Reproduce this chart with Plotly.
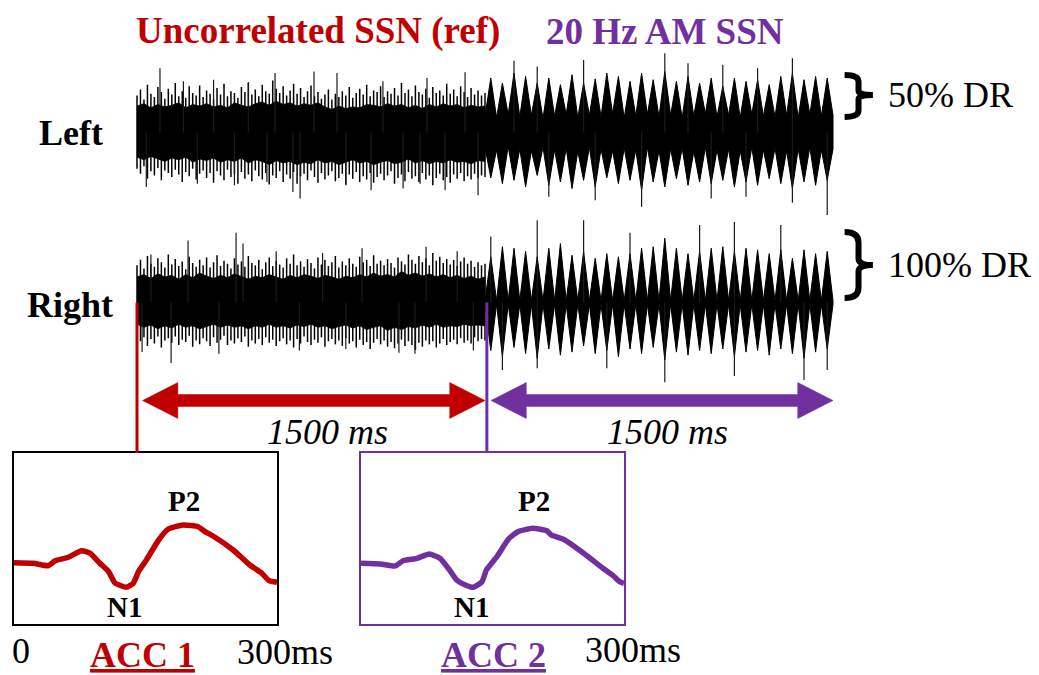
import plotly.graph_objects as go

W, H = 1039, 675
RED = '#C00000'
PURPLE = '#7030A0'
FONT = 'Liberation Serif, Times New Roman, serif'

# ---------------- stimulus waveforms (envelopes) -------------
# uncorrelated SSN part: solid core of the band, read every 30 ms (0..1500 ms)
core_t = list(range(0, 1501, 30))
left_core_top = [0.32, 0.35, 0.30, 0.34, 0.31, 0.33, 0.36, 0.30, 0.34, 0.32, 0.35, 0.31, 0.33,
                 0.30, 0.36, 0.33, 0.31, 0.35, 0.37, 0.33, 0.38, 0.34, 0.36, 0.32, 0.35, 0.33,
                 0.36, 0.31, 0.28, 0.32, 0.29, 0.31, 0.30, 0.34, 0.33, 0.31, 0.35, 0.32, 0.34,
                 0.30, 0.33, 0.29, 0.34, 0.31, 0.35, 0.32, 0.34, 0.30, 0.33, 0.31, 0.32]
left_core_bot = [-0.30, -0.33, -0.29, -0.32, -0.35, -0.31, -0.33, -0.30, -0.36, -0.32, -0.34,
                 -0.31, -0.36, -0.33, -0.35, -0.31, -0.37, -0.33, -0.35, -0.39, -0.34, -0.37,
                 -0.35, -0.39, -0.36, -0.38, -0.33, -0.37, -0.35, -0.39, -0.36, -0.33, -0.37,
                 -0.35, -0.39, -0.36, -0.34, -0.38, -0.36, -0.32, -0.37, -0.34, -0.38, -0.35,
                 -0.37, -0.33, -0.36, -0.35, -0.38, -0.34, -0.35]
right_core_top = [0.33, 0.36, 0.31, 0.37, 0.33, 0.35, 0.30, 0.36, 0.32, 0.38, 0.34, 0.31, 0.35,
                  0.32, 0.37, 0.34, 0.30, 0.34, 0.32, 0.36, 0.33, 0.30, 0.35, 0.32, 0.36, 0.34,
                  0.31, 0.35, 0.33, 0.30, 0.34, 0.32, 0.36, 0.33, 0.38, 0.34, 0.36, 0.33, 0.40,
                  0.35, 0.38, 0.34, 0.37, 0.33, 0.36, 0.32, 0.35, 0.31, 0.34, 0.30, 0.33]
right_core_bot = [-0.28, -0.32, -0.29, -0.34, -0.30, -0.33, -0.28, -0.32, -0.30, -0.34, -0.31,
                  -0.28, -0.32, -0.29, -0.32, -0.30, -0.34, -0.30, -0.32, -0.28, -0.32, -0.30,
                  -0.33, -0.29, -0.31, -0.28, -0.32, -0.30, -0.34, -0.31, -0.29, -0.33, -0.30,
                  -0.35, -0.32, -0.30, -0.36, -0.32, -0.35, -0.31, -0.33, -0.29, -0.32, -0.28,
                  -0.32, -0.30, -0.31, -0.28, -0.30, -0.29, -0.30]

# uncorrelated SSN part: needle tips of the noisy fringe, read every 15 ms
needle_t = list(range(0, 1501, 15))
left_needle_hi = [0.45, 0.52, 0.40, 0.58, 0.47, 0.43, 0.55, 0.49, 0.41, 0.53,
                  0.46, 0.60, 0.44, 0.50, 0.42, 0.56, 0.48, 0.45, 0.57, 0.43,
                  0.51, 0.47, 0.40, 0.54, 0.46, 0.59, 0.44, 0.50, 0.48, 0.42,
                  0.55, 0.49, 0.61, 0.46, 0.52, 0.44, 0.58, 0.50, 0.47, 0.63,
                  0.53, 0.48, 0.56, 0.45, 0.51, 0.59, 0.47, 0.54, 0.43, 0.50,
                  0.57, 0.44, 0.49, 0.41, 0.46, 0.52, 0.40, 0.47, 0.43, 0.50,
                  0.45, 0.55, 0.42, 0.48, 0.53, 0.46, 0.58, 0.44, 0.51, 0.49,
                  0.56, 0.43, 0.50, 0.47, 0.54, 0.45, 0.60, 0.48, 0.52, 0.44,
                  0.57, 0.49, 0.46, 0.53, 0.42, 0.55, 0.48, 0.51, 0.45, 0.59,
                  0.47, 0.52, 0.44, 0.56, 0.49, 0.43, 0.54, 0.46, 0.51, 0.45, 0.48]
left_needle_lo = [-0.44, -0.50, -0.41, -0.56, -0.47, -0.52, -0.43, -0.58, -0.46, -0.49,
                  -0.54, -0.45, -0.51, -0.60, -0.48, -0.53, -0.44, -0.57, -0.50, -0.46,
                  -0.55, -0.49, -0.61, -0.47, -0.52, -0.58, -0.45, -0.54, -0.50, -0.62,
                  -0.48, -0.56, -0.51, -0.59, -0.46, -0.53, -0.57, -0.49, -0.63, -0.52,
                  -0.55, -0.47, -0.60, -0.51, -0.56, -0.48, -0.62, -0.53, -0.50, -0.58,
                  -0.46, -0.54, -0.61, -0.49, -0.57, -0.52, -0.47, -0.59, -0.55, -0.50,
                  -0.63, -0.51, -0.56, -0.48, -0.60, -0.53, -0.57, -0.49, -0.61, -0.54,
                  -0.50, -0.58, -0.52, -0.47, -0.62, -0.55, -0.51, -0.59, -0.48, -0.56,
                  -0.53, -0.60, -0.49, -0.57, -0.52, -0.64, -0.55, -0.50, -0.58, -0.54,
                  -0.61, -0.51, -0.56, -0.49, -0.59, -0.53, -0.57, -0.50, -0.55, -0.52, -0.54]
right_needle_hi = [0.48, 0.55, 0.44, 0.60, 0.50, 0.46, 0.57, 0.52, 0.45, 0.62,
                   0.49, 0.56, 0.47, 0.53, 0.43, 0.59, 0.51, 0.46, 0.55, 0.48,
                   0.58, 0.45, 0.52, 0.61, 0.47, 0.54, 0.50, 0.44, 0.57, 0.49,
                   0.53, 0.46, 0.60, 0.51, 0.48, 0.55, 0.43, 0.52, 0.58, 0.47,
                   0.54, 0.49, 0.45, 0.57, 0.50, 0.62, 0.48, 0.53, 0.46, 0.56,
                   0.51, 0.44, 0.58, 0.49, 0.55, 0.47, 0.52, 0.60, 0.45, 0.53,
                   0.48, 0.57, 0.50, 0.46, 0.59, 0.52, 0.55, 0.47, 0.61, 0.50,
                   0.54, 0.48, 0.56, 0.51, 0.45, 0.58, 0.53, 0.49, 0.62, 0.55,
                   0.50, 0.60, 0.52, 0.57, 0.48, 0.64, 0.54, 0.59, 0.51, 0.56,
                   0.49, 0.55, 0.47, 0.53, 0.58, 0.50, 0.54, 0.46, 0.52, 0.48, 0.50]
right_needle_lo = [-0.42, -0.50, -0.45, -0.56, -0.47, -0.53, -0.44, -0.58, -0.49, -0.46,
                   -0.52, -0.44, -0.55, -0.48, -0.51, -0.43, -0.57, -0.49, -0.54, -0.46,
                   -0.50, -0.56, -0.45, -0.52, -0.48, -0.43, -0.55, -0.49, -0.53, -0.46,
                   -0.51, -0.44, -0.57, -0.49, -0.53, -0.47, -0.55, -0.45, -0.52, -0.48,
                   -0.56, -0.50, -0.46, -0.54, -0.49, -0.58, -0.47, -0.53, -0.44, -0.51,
                   -0.55, -0.48, -0.52, -0.45, -0.57, -0.50, -0.47, -0.54, -0.49, -0.56,
                   -0.46, -0.53, -0.50, -0.58, -0.48, -0.55, -0.51, -0.60, -0.52, -0.47,
                   -0.54, -0.49, -0.57, -0.51, -0.59, -0.53, -0.48, -0.56, -0.50, -0.55,
                   -0.61, -0.52, -0.57, -0.49, -0.54, -0.50, -0.58, -0.53, -0.47, -0.55,
                   -0.51, -0.48, -0.54, -0.46, -0.52, -0.49, -0.53, -0.45, -0.50, -0.47, -0.49]

# 20 Hz AM SSN part: troughs and burst peaks (ms)
trough_t = [1500, 1550, 1600, 1650, 1700, 1750, 1800, 1850, 1900, 1950, 2000, 2050, 2100, 2150,
            2200, 2250, 2300, 2350, 2400, 2450, 2500, 2550, 2600, 2650, 2700, 2750, 2800, 2850,
            2900, 2950, 3000]
burst_t = [1525, 1575, 1625, 1675, 1725, 1775, 1825, 1875, 1925, 1975, 2025, 2075, 2125, 2175,
           2225, 2275, 2325, 2375, 2425, 2475, 2525, 2575, 2625, 2675, 2725, 2775, 2825, 2875,
           2925, 2975]
left_peak_top = [0.66, 0.60, 0.72, 0.68, 0.60, 0.66, 0.58, 0.70, 0.60, 0.65, 0.72, 0.68, 0.62,
                 0.72, 0.64, 0.74, 0.62, 0.68, 0.60, 0.66, 0.56, 0.66, 0.62, 0.64, 0.58, 0.68,
                 0.72, 0.64, 0.68, 0.66]
left_peak_bot = [-0.55, -0.62, -0.58, -0.66, -0.52, -0.64, -0.60, -0.68, -0.58, -0.66, -0.55,
                 -0.62, -0.58, -0.70, -0.60, -0.66, -0.56, -0.64, -0.60, -0.62, -0.58, -0.66,
                 -0.60, -0.64, -0.56, -0.62, -0.68, -0.60, -0.64, -0.58]
left_trough_top = [0.20, 0.18, 0.22, 0.19, 0.21, 0.17, 0.20, 0.22, 0.18, 0.21, 0.19, 0.23, 0.18,
                   0.20, 0.22, 0.19, 0.21, 0.18, 0.20, 0.23, 0.19, 0.21, 0.18, 0.22, 0.20, 0.19,
                   0.21, 0.18, 0.22, 0.20, 0.21]
left_trough_bot = [-0.18, -0.21, -0.17, -0.20, -0.22, -0.18, -0.21, -0.19, -0.23, -0.18, -0.20,
                   -0.22, -0.19, -0.21, -0.18, -0.22, -0.20, -0.19, -0.23, -0.18, -0.21, -0.20,
                   -0.22, -0.18, -0.21, -0.19, -0.22, -0.20, -0.18, -0.21, -0.20]
right_peak_top = [0.59, 0.72, 0.70, 0.66, 0.59, 0.70, 0.76, 0.61, 0.66, 0.57, 0.63, 0.59, 0.63,
                  0.70, 0.72, 0.83, 0.70, 0.63, 0.66, 0.70, 0.72, 0.66, 0.70, 0.68, 0.63, 0.68,
                  0.57, 0.68, 0.63, 0.66]
right_peak_bot = [-0.62, -0.70, -0.58, -0.66, -0.72, -0.60, -0.68, -0.64, -0.56, -0.66, -0.62,
                  -0.70, -0.60, -0.66, -0.58, -0.74, -0.64, -0.68, -0.62, -0.66, -0.60, -0.70,
                  -0.64, -0.62, -0.68, -0.60, -0.66, -0.72, -0.64, -0.60]
RIGHT_TROUGH = 0.025   # 100% depth: only a thin line remains between bursts

# isolated long needle spikes outside the dense band
left_spike_t = [40, 99, 200, 260, 330, 420, 480, 560, 595, 672, 703, 763, 862, 900, 1009, 1060,
                1147, 1220, 1250, 1328, 1414, 1470, 1625, 1725, 1775, 1925, 1975, 2175, 2275,
                2375, 2475, 2525, 2625, 2675, 2825, 2825, 2975]
left_spike_v = [-0.66, 0.78, 0.62, -0.62, 0.64, -0.64, 0.60, -0.60, 0.72, -0.72, -0.80, 0.74,
                0.72, -0.64, -0.70, 0.62, -0.68, -0.62, 0.66, -0.70, 0.73, -0.76, 0.87, 0.80,
                -0.78, 0.88, -0.82, -0.90, 0.96, 0.84, -0.80, 0.82, -0.78, 0.78, 0.90, -0.85,
                -1.00]
right_spike_t = [22, 60, 147, 220, 353, 427, 457, 600, 700, 800, 900, 970, 1129, 1198, 1246,
                 1380, 1450, 1525, 1575, 1725, 1725, 1925, 2025, 2125, 2275, 2425, 2575, 2575,
                 2775, 2875, 2975]
right_spike_v = [-0.64, 0.62, -0.78, 0.80, -0.66, 0.90, 0.76, 0.66, -0.62, 0.64, -0.60, 0.70,
                 -0.65, -0.66, 0.72, 0.66, -0.62, 0.85, -0.87, 1.06, -0.85, 1.06, -0.85, 0.90,
                 -1.03, 1.00, 1.04, -0.95, 1.00, -1.00, -0.87]

# ---------------- ACC responses (0-300 ms) ----------------
erp1_t = [0, 22, 39, 47, 62, 77, 87, 98, 108, 115, 128, 136, 142, 151, 165, 176, 193, 210, 218,
          227, 250, 269, 282, 291, 300]
erp1_v = [0.23, 0.17, -0.07, 0.43, 0.77, 1.43, 1.17, 0.17, -0.67, -1.77, -2.23, -1.83, -0.67,
          0.5, 2.5, 3.6, 4.0, 3.83, 3.33, 2.9, 1.5, 0.0, -0.77, -1.57, -1.73]
erp2_t = [0, 22, 39, 48, 64, 78, 90, 101, 109, 119, 128, 138, 143, 155, 168, 179, 196, 212, 217,
          231, 254, 276, 288, 295, 300]
erp2_v = [0.17, 0.1, -0.1, 0.43, 0.67, 1.1, 0.67, -0.5, -1.5, -2.0, -2.23, -1.67, -0.5, 0.83,
          2.57, 3.33, 3.67, 3.43, 3.0, 2.57, 1.17, -0.33, -1.1, -1.67, -1.83]

segments = [(0, 1500, RED), (1500, 3000, PURPLE)]
onsets = [(0, RED), (1508, PURPLE)]


def band_polygon(ts, top, bot):
    return list(ts) + list(ts)[::-1], list(top) + list(bot)[::-1]


def am_polygon(tr_top, tr_bot, pk_top, pk_bot):
    xt, yt, xb, yb = [], [], [], []
    for i in range(len(burst_t)):
        xt += [trough_t[i], burst_t[i]]
        yt += [tr_top[i], pk_top[i]]
        xb += [trough_t[i], burst_t[i]]
        yb += [tr_bot[i], pk_bot[i]]
    xt.append(trough_t[-1]); yt.append(tr_top[-1])
    xb.append(trough_t[-1]); yb.append(tr_bot[-1])
    return xt + xb[::-1], yt + yb[::-1]


def segs(ts, lo, hi):
    xs, ys = [], []
    for t, a, b in zip(ts, lo, hi):
        xs += [t, t, None]
        ys += [a, b, None]
    return xs, ys


fig = go.Figure()

channels = [
    ('y', left_core_top, left_core_bot, left_needle_hi, left_needle_lo,
     left_trough_top, left_trough_bot, left_peak_top, left_peak_bot, left_spike_t, left_spike_v),
    ('y2', right_core_top, right_core_bot, right_needle_hi, right_needle_lo,
     [RIGHT_TROUGH] * len(trough_t), [-RIGHT_TROUGH] * len(trough_t),
     right_peak_top, right_peak_bot, right_spike_t, right_spike_v),
]
for (ya, ctop, cbot, nhi, nlo, ttop, tbot, ptop, pbot, st, sv) in channels:
    px_, py_ = band_polygon(core_t, ctop, cbot)
    fig.add_trace(go.Scatter(x=px_, y=py_, fill='toself', fillcolor='black', mode='lines',
                             line=dict(color='black', width=0.8), xaxis='x', yaxis=ya))
    nx, ny = segs(needle_t, nlo, nhi)
    fig.add_trace(go.Scatter(x=nx, y=ny, mode='lines', line=dict(color='black', width=1.5),
                             xaxis='x', yaxis=ya))
    ax_, ay_ = am_polygon(ttop, tbot, ptop, pbot)
    fig.add_trace(go.Scatter(x=ax_, y=ay_, fill='toself', fillcolor='black', mode='lines',
                             line=dict(color='black', width=1.0), xaxis='x', yaxis=ya))
    sx, sy = segs(st, [0] * len(st), sv)
    fig.add_trace(go.Scatter(x=sx, y=sy, mode='lines', line=dict(color='#1a1a1a', width=1.2),
                             xaxis='x', yaxis=ya))

fig.add_trace(go.Scatter(x=erp1_t, y=erp1_v, mode='lines',
                         line=dict(color=RED, width=5.5, shape='spline', smoothing=0.5),
                         xaxis='x3', yaxis='y3'))
fig.add_trace(go.Scatter(x=erp2_t, y=erp2_v, mode='lines',
                         line=dict(color=PURPLE, width=5.5, shape='spline', smoothing=0.5),
                         xaxis='x4', yaxis='y4'))


def X(px):
    return px / W


def Y(py):
    return 1 - py / H


hidden = dict(visible=False, showgrid=False, zeroline=False, fixedrange=True)
box = dict(showline=True, mirror=True, linewidth=2, showticklabels=False, ticks='',
           showgrid=False, zeroline=False, fixedrange=True)

fig.update_layout(
    width=W, height=H, margin=dict(l=0, r=0, t=0, b=0),
    paper_bgcolor='white', plot_bgcolor='rgba(0,0,0,0)', showlegend=False,
    xaxis=dict(domain=[X(137 - 10 * 0.232), X(137 + 3200 * 0.232)], range=[-10, 3200],
               anchor='y', **hidden),
    yaxis=dict(domain=[Y(215), Y(50)], range=[-1, 1], anchor='x', **hidden),
    yaxis2=dict(domain=[Y(460), Y(220)], range=[-2.0323, 1.0645], anchor='x', **hidden),
    xaxis3=dict(domain=[X(14), X(277)], range=[0, 300], anchor='y3', linecolor='black', **box),
    yaxis3=dict(domain=[Y(624), Y(453)], range=[-5.9, 11.2], anchor='x3', linecolor='black', **box),
    xaxis4=dict(domain=[X(361), X(624)], range=[0, 300], anchor='y4', linecolor=PURPLE, **box),
    yaxis4=dict(domain=[Y(624), Y(453)], range=[-5.9, 11.2], anchor='x4', linecolor=PURPLE, **box),
)

shapes = []
# onset markers connecting the stimulus to the ACC panels
for t, c in onsets:
    shapes.append(dict(type='line', xref='x', yref='y2', x0=t, x1=t, y0=0, y1=-1.942,
                       line=dict(color=c, width=3)))

# double-headed duration arrows
ARROW_Y, HEAD_H, SHAFT_H, HEAD_L = -1.2645, 0.2323, 0.0774, 152
for (a, b, c), gap in zip(segments, [24, 26]):
    l, r = a + gap, b
    p = (f"M{l},{ARROW_Y} L{l + HEAD_L},{ARROW_Y + HEAD_H} L{l + HEAD_L},{ARROW_Y + SHAFT_H} "
         f"L{r - HEAD_L},{ARROW_Y + SHAFT_H} L{r - HEAD_L},{ARROW_Y + HEAD_H} L{r},{ARROW_Y} "
         f"L{r - HEAD_L},{ARROW_Y - HEAD_H} L{r - HEAD_L},{ARROW_Y - SHAFT_H} "
         f"L{l + HEAD_L},{ARROW_Y - SHAFT_H} L{l + HEAD_L},{ARROW_Y - HEAD_H} Z")
    shapes.append(dict(type='path', xref='x', yref='y2', path=p, fillcolor=c,
                       line=dict(color=c, width=0.5)))


def brace(yref, t0, tbar, ttip, ytop, ymid, ybot):
    a = (ytop - ybot) * 0.16
    b = (ytop - ybot) * 0.10
    p = (f"M{t0},{ytop} Q{tbar},{ytop} {tbar},{ytop - a} L{tbar},{ymid + b} "
         f"Q{tbar},{ymid} {ttip},{ymid} Q{tbar},{ymid} {tbar},{ymid - b} "
         f"L{tbar},{ybot + a} Q{tbar},{ybot} {t0},{ybot}")
    return dict(type='path', xref='x', yref=yref, path=p, line=dict(color='black', width=6))


shapes.append(brace('y', 3050, 3110, 3172, 0.697, 0.455, 0.188))
shapes.append(brace('y2', 3050, 3110, 3172, 0.91, 0.484, 0.058))
fig.update_layout(shapes=shapes)

ann = []


def text(s, px, py, size=36, color='black', **kw):
    ann.append(dict(text=s, x=X(px), y=Y(py), xref='paper', yref='paper', showarrow=False,
                    xanchor=kw.pop('xanchor', 'center'), yanchor='middle',
                    font=dict(family=FONT, size=size, color=color, **kw)))


text('<b>Uncorrelated SSN (ref)</b>', 317.5, 31, size=37, color=RED)
text('<b>20 Hz AM SSN</b>', 665, 31, size=37, color=PURPLE)
text('<b>Left</b>', 70.5, 133)
text('<b>Right</b>', 70, 305)
text('50% DR', 886, 95, xanchor='left')
text('100% DR', 886, 265, xanchor='left')
text('<i>1500 ms</i>', 327.5, 432)
text('<i>1500 ms</i>', 667.5, 432)
text('<b>P2</b>', 183.5, 501, size=29)
text('<b>N1</b>', 124, 607, size=29)
text('<b>P2</b>', 533.5, 501, size=29)
text('<b>N1</b>', 471.5, 607, size=29)
text('0', 21, 651)
text('300ms', 235, 652, xanchor='left')
text('300ms', 583, 650, xanchor='left')
text('<b>ACC 1</b>', 142.5, 655, color=RED, lineposition='under')
text('<b>ACC 2</b>', 493.5, 655, color=PURPLE, lineposition='under')
fig.update_layout(annotations=ann)

fig.write_html('out.html')
